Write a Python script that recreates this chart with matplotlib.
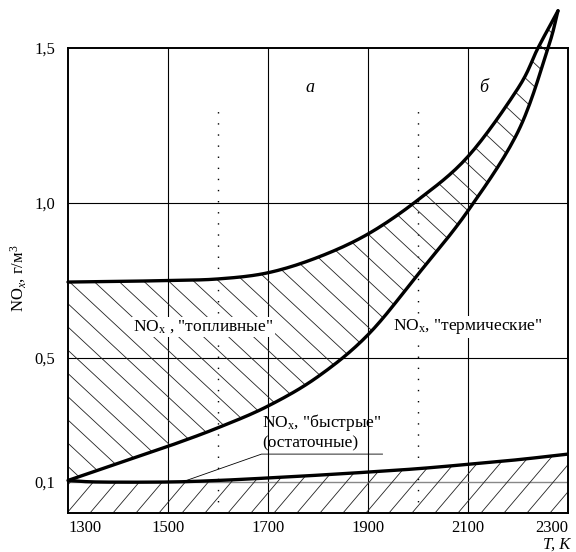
import matplotlib
matplotlib.use('Agg')
import matplotlib.pyplot as plt
import numpy as np
from matplotlib.patches import Polygon
from matplotlib.collections import LineCollection

plt.rcParams['font.family'] = ['Liberation Serif', 'DejaVu Serif']
plt.rcParams['mathtext.fontset'] = 'custom'
plt.rcParams['mathtext.rm'] = 'Liberation Serif'
plt.rcParams['mathtext.it'] = 'Liberation Serif:italic'

# данные
x_ticks = [1300, 1500, 1700, 1900, 2100, 2300]
y_ticks = [0.1, 0.5, 1.0, 1.5]
y_tick_labels = ['0,1', '0,5', '1,0', '1,5']

# верхняя граница "топливных"
t_top = [1300, 1400, 1500, 1600, 1700, 1800, 1900, 2000, 2100, 2200, 2240, 2280]
no_top = [0.745, 0.747, 0.75, 0.755, 0.775, 0.825, 0.90, 1.01, 1.15, 1.37, 1.50, 1.62]

# граница "топливные" / "термические"
t_mid = [1300, 1400, 1500, 1600, 1700, 1800, 1900, 2000, 2100, 2200, 2260, 2280]
no_mid = [0.105, 0.16, 0.215, 0.275, 0.345, 0.44, 0.575, 0.77, 0.975, 1.23, 1.50, 1.62]

# "быстрые" (остаточные)
t_low = [1300, 1360, 1500, 1600, 1700, 1800, 1900, 2000, 2100, 2200, 2300]
no_low = [0.105, 0.10, 0.10, 0.105, 0.113, 0.122, 0.132, 0.143, 0.157, 0.172, 0.19]

# выноска
t_lead = [1537, 1687, 1929]
no_lead = [0.105, 0.19, 0.19]

# пунктиры (границы зон а и б)
t_dots = [1600, 2000]
dots_top = 1.31


def smooth(t, v, n=16):
    # Catmull-Rom по точкам
    p = np.column_stack([t, v]).astype(float)
    p = np.vstack([2 * p[0] - p[1], p, 2 * p[-1] - p[-2]])
    out = []
    s = np.linspace(0, 1, n, endpoint=False)[:, None]
    for i in range(1, len(p) - 2):
        p0, p1, p2, p3 = p[i - 1], p[i], p[i + 1], p[i + 2]
        c = 0.5 * ((2 * p1) + (-p0 + p2) * s + (2 * p0 - 5 * p1 + 4 * p2 - p3) * s ** 2
                   + (-p0 + 3 * p1 - 3 * p2 + p3) * s ** 3)
        out.append(c)
    out.append(p[-2][None, :])
    out = np.vstack(out)
    return out[:, 0], out[:, 1]


def hatch(ax, pt, pv, slope, step):
    patch = Polygon(np.column_stack([pt, pv]), closed=True, fc='none', ec='none',
                    transform=ax.transData)
    segs = []
    for t0 in np.arange(700, 3800, step):
        segs.append([(1200, slope * (1200 - t0)), (2400, slope * (2400 - t0))])
    lc = LineCollection(segs, colors='#222222', linewidths=0.6, zorder=1)
    lc.set_clip_path(patch)
    ax.add_collection(lc, autolim=False)


fig = plt.figure(figsize=(5.76, 5.52), dpi=100)
ax = fig.add_axes([68 / 576, 39 / 552, 500 / 576, 465 / 552])
ax.set_xlim(1300, 2300)
ax.set_ylim(0, 1.5)

ts, vs = smooth(t_top, no_top)
tm, vm = smooth(t_mid, no_mid)
tl, vl = smooth(t_low, no_low)

# штриховка
hatch(ax, np.concatenate([ts, tm[::-1]]), np.concatenate([vs, vm[::-1]]), -0.00150, 50)
hatch(ax, np.concatenate([tl, [2300, 1300]]), np.concatenate([vl, [0, 0]]), 0.00190, 46)

# сетка
for t in x_ticks[1:-1]:
    ax.axvline(t, color='k', lw=0.8, zorder=0.5)
ax.axhline(0.5, color='k', lw=0.8, zorder=0.5)
ax.axhline(1.0, color='k', lw=0.8, zorder=0.5)
ax.axhline(0.1, color='#888888', lw=1.0, zorder=0.5)

for t in t_dots:
    ax.plot([t, t], [0, dots_top], color='k', lw=1.0, ls=(0, (1, 7)), zorder=0.6)

ax.plot(ts, vs, color='k', lw=2.4, clip_on=False, zorder=3, solid_capstyle='round')
ax.plot(tm, vm, color='k', lw=2.4, clip_on=False, zorder=3, solid_capstyle='round')
ax.plot(tl, vl, color='k', lw=2.4, zorder=3)
ax.plot(t_lead, no_lead, color='k', lw=0.6, zorder=3)

box = dict(facecolor='white', edgecolor='none', pad=1)
ax.text(1430, 0.60, 'NO$_\\mathrm{x}$ , "топливные"', fontsize=12.5, ha='left', va='center',
        bbox=box, zorder=4)
ax.text(1950, 0.60, 'NO$_\\mathrm{x}$, "термические"', fontsize=12.5, ha='left', va='center',
        bbox=box, zorder=4)
ax.text(1688, 0.293, 'NO$_\\mathrm{x}$, "быстрые"', fontsize=12.5, ha='left', va='center', zorder=4)
ax.text(1688, 0.226, '(остаточные)', fontsize=12.5, ha='left', va='center', zorder=4)
ax.text(1784, 1.374, 'а', fontsize=13, style='italic', ha='center', va='center')
ax.text(2132, 1.374, 'б', fontsize=13, style='italic', ha='center', va='center')

ax.set_xticks(x_ticks)
ax.set_xticklabels([str(t) for t in x_ticks])
ax.set_yticks(y_ticks)
ax.set_yticklabels(y_tick_labels)
ax.tick_params(length=0, labelsize=12)
ax.tick_params(axis='y', pad=9)
ax.tick_params(axis='x', pad=5)
xl = ax.get_xticklabels()
xl[0].set_ha('left')
xl[-1].set_ha('right')

for s in ax.spines.values():
    s.set_linewidth(1.4)

fig.text(18 / 576, 1 - 278 / 552, 'NO$_x$, г/м$^3$', rotation=90, fontsize=12,
         ha='center', va='center')
fig.text(570 / 576, 1 - 545 / 552, 'T, K', fontsize=12, style='italic', ha='right', va='center')

fig.savefig('out.png', dpi=100)
